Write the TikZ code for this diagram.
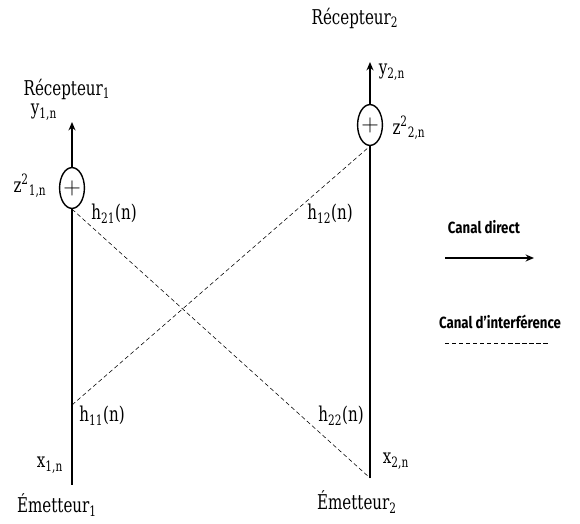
\documentclass[tikz,border=0pt]{standalone}
\usepackage{fontspec}
\newfontfamily\legendfont{Fira Sans}[FakeStretch=0.82]
\newfontfamily\lblfont{DejaVu Serif}[FakeStretch=0.74]
\usetikzlibrary{arrows.meta,shapes.geometric}

\tikzset{
  direct/.style={line width=1.5pt},
  interf/.style={thin,dash pattern=on 3pt off 2pt},
  sum/.style={ellipse,draw,line width=1pt,minimum width=0.62cm,minimum height=1.02cm,inner sep=0pt,font=\LARGE},
  lbl/.style={font=\lblfont\fontsize{14.5}{17}\selectfont,inner sep=0pt},
  leg/.style={font=\legendfont\bfseries\fontsize{11.5}{13}\selectfont}
}

\begin{document}
\begin{tikzpicture}[x=0.025cm,y=-0.025cm,>={Stealth[length=6pt,width=5pt]}]
\useasboundingbox (0,0) rectangle (580,524);
% emetteur / recepteur 1
\node[sum] (s1) at (72,188) {+};
\coordinate (e1) at (72,485);
\coordinate (r1) at (72,122);
\coordinate (p1) at (72,405);
\draw[direct] (e1) -- (s1);
\draw[direct,->] (s1) -- (r1);
% emetteur / recepteur 2
\node[sum] (s2) at (370,125) {+};
\coordinate (e2) at (370,478);
\coordinate (r2) at (370,62);
\draw[direct] (e2) -- (s2);
\draw[direct,->] (s2) -- (r2);
% interference
\draw[interf] (s1.south) -- (e2);
\draw[interf] (p1) -- (s2.south);
% labels
\node[lbl] (rec1) at (67,89) {Récepteur\textsubscript{1}};
\node[lbl] (y1) at (44,112) {y\textsubscript{1,n}};
\node[lbl] (z1) at (30,186) {z\textsuperscript{2}\textsubscript{1,n}};
\node[lbl] (h21) at (114,214) {h\textsubscript{21}(n)};
\node[lbl] (h11) at (102,416) {h\textsubscript{11}(n)};
\node[lbl] (x1) at (50,465) {x\textsubscript{1,n}};
\node[lbl] (em1) at (57,505) {Émetteur\textsubscript{1}};
\node[lbl] (rec2) at (355,18) {Récepteur\textsubscript{2}};
\node[lbl] (y2) at (392,72) {y\textsubscript{2,n}};
\node[lbl] (z2) at (409,128) {z\textsuperscript{2}\textsubscript{2,n}};
\node[lbl] (h12) at (330,214) {h\textsubscript{12}(n)};
\node[lbl] (h22) at (341,416) {h\textsubscript{22}(n)};
\node[lbl] (x2) at (396,461) {x\textsubscript{2,n}};
\node[lbl] (em2) at (357,502) {Émetteur\textsubscript{2}};
% legende
\node[leg] (ld) at (484,227) {Canal direct};
\coordinate (la) at (445,258);
\coordinate (lb) at (534,258);
\draw[line width=2pt,->] (la) -- (lb);
\node[leg] (li) at (500,322) {Canal d’interférence};
\coordinate (lc) at (445,343);
\coordinate (ld2) at (550,343);
\draw[interf] (lc) -- (ld2);
\end{tikzpicture}
\end{document}
